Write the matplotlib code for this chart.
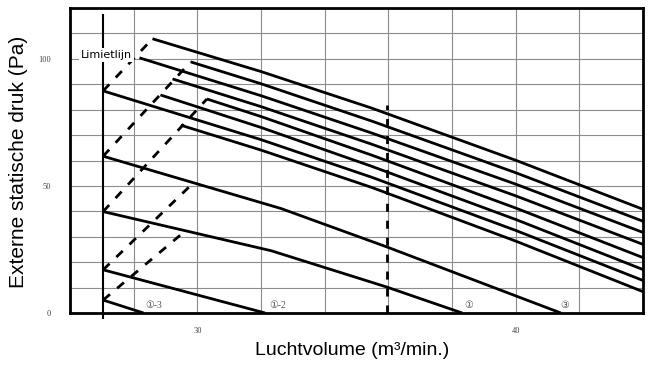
import numpy as np
import matplotlib.pyplot as plt

plt.rcParams['font.family'] = ['Liberation Sans', 'DejaVu Sans']

# solid fan curves: air volume (m3/min) vs external static pressure (Pa)
fan_x = [
    [28.59, 32.0, 35.48, 40.0, 44.0],
    [29.79, 32.0, 35.48, 40.0, 44.0],
    [28.18, 32.0, 35.48, 40.0, 44.0],
    [29.22, 32.0, 35.48, 40.0, 44.0],
    [30.30, 32.0, 35.48, 40.0, 44.0],
    [28.84, 32.0, 35.48, 40.0, 44.0],
    [27.04, 32.0, 35.48, 40.0, 44.0],
    [29.48, 32.0, 35.48, 40.0, 44.0],
    [27.04, 32.63, 35.93, 41.42],
    [27.04, 32.32, 35.93, 38.32],
    [27.04, 32.13],
    [27.04, 28.31],
]
fan_y = [
    [107.9, 95.0, 80.6, 60.1, 40.8],
    [98.8, 90.2, 75.5, 55.2, 36.1],
    [100.4, 85.5, 70.8, 50.7, 31.7],
    [92.1, 81.2, 66.4, 46.1, 27.0],
    [84.2, 77.3, 62.1, 41.3, 21.8],
    [85.8, 73.0, 57.7, 36.8, 17.1],
    [87.4, 68.2, 53.4, 32.5, 12.8],
    [73.9, 64.1, 49.4, 28.3, 8.4],
    [61.7, 41.1, 26.1, 0.0],
    [39.9, 24.5, 10.3, 0.0],
    [17.0, 0.0],
    [5.1, 0.0],
]

# dashed diagonal lines (start on the limit line)
dash_x = [[27.04, 28.59], [27.04, 29.79], [27.04, 30.30], [27.04, 29.79], [27.04, 29.63]]
dash_y = [[87.4, 107.9], [61.7, 98.8], [39.9, 84.2], [17.0, 50.2], [5.1, 32.4]]

limit_x = 27.04
limit_top = 117.4
rated_x = 35.95
rated_top = 82.0

bottom_labels = ['①-3', '①-2', '①', '③']
bottom_label_x = [28.37, 32.26, 38.39, 41.39]
right_labels = ['②', '④', '⑤', '⑥', '⑦', '⑧', '⑨', '⑩']
right_label_y = [39.1, 33.6, 28.5, 24.1, 19.4, 13.8, 9.5, 3.6]

fig = plt.figure(figsize=(6.49, 3.67), dpi=100)
ax = fig.add_axes([0.1079, 0.1471, 0.8829, 0.8311])
ax.set_xlim(26, 44)
ax.set_ylim(0, 120)

ax.set_xticks([30, 40])
ax.set_xticks(np.arange(28, 44, 2), minor=True)
ax.set_yticks([0, 50, 100])
ax.set_yticks(np.arange(10, 120, 10), minor=True)
ax.grid(which='both', color='#8c8c8c', lw=0.8)
ax.set_axisbelow(True)
ax.tick_params(which='both', length=0)
ax.tick_params(axis='y', pad=14)
ax.tick_params(axis='x', pad=10)
for lab in ax.get_xticklabels() + ax.get_yticklabels():
    lab.set_fontfamily('Liberation Serif')
    lab.set_fontsize(6)
    lab.set_color('#444444')
for s in ax.spines.values():
    s.set_linewidth(2.0)

for xs, ys in zip(fan_x, fan_y):
    ax.plot(xs, ys, color='k', lw=2.0, solid_capstyle='butt', solid_joinstyle='round')

for xs, ys in zip(dash_x, dash_y):
    ax.plot(xs, ys, color='k', lw=2.0, linestyle=(0, (3.2, 3.4)))

ax.plot([rated_x, rated_x], [0, rated_top], color='k', lw=2.0, linestyle=(0, (2.9, 3.2)))

# limit line
ax.plot([limit_x, limit_x], [-2, limit_top], color='k', lw=1.5, clip_on=False)
ax.text(27.15, 101.4, 'Limietlijn', family='DejaVu Sans', fontsize=8, ha='center', va='center',
        bbox=dict(fc='white', ec='none', pad=1.5), zorder=5)

circ_font = ['Liberation Serif', 'DejaVu Sans', 'Noto Sans CJK JP']
for lab, x in zip(bottom_labels, bottom_label_x):
    ax.text(x, 2.8, lab, family=circ_font, fontsize=7, color='#555555', ha='left', va='center')
for lab, y in zip(right_labels, right_label_y):
    ax.text(44.17, y, lab, family=circ_font, fontsize=7, color='#555555', ha='left', va='center',
            clip_on=False)

fig.text(0.542, 0.046, 'Luchtvolume (m³/min.)', fontsize=14, ha='center', va='center')
fig.text(0.028, 0.559, 'Externe statische druk (Pa)', fontsize=15, ha='center', va='center',
         rotation=90)

plt.savefig('out.png', dpi=100)
